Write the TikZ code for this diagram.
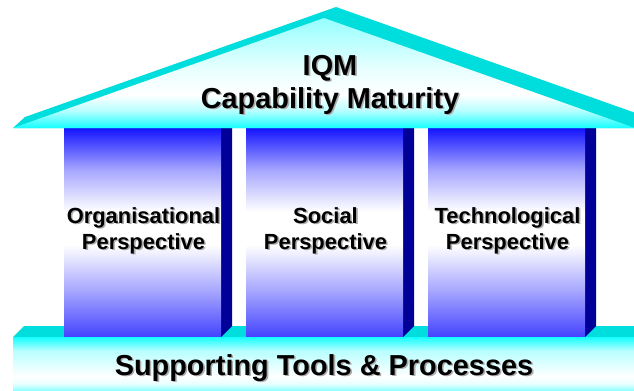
\documentclass[tikz,border=0pt]{standalone}
\usepackage{fontspec}
\setmainfont{Liberation Sans}

\definecolor{roofedge}{RGB}{0,221,221}
\definecolor{brightcyan}{RGB}{20,255,255}
\definecolor{pillarblue}{RGB}{20,20,255}
\definecolor{pillarside}{RGB}{0,0,153}
\colorlet{pillarlow}{pillarblue!80!white}
\colorlet{pillarlight}{pillarblue!38!white}
\colorlet{cyanmid}{brightcyan!45!white}
\colorlet{cyanlight}{brightcyan!30!white}
\colorlet{cyanpale}{brightcyan!10!white}

% vertical shadings (visible part runs from 25bp to 75bp)
\pgfdeclareverticalshading{pillarshade}{100bp}{color(0bp)=(pillarlow); color(25bp)=(pillarlow);
  color(36bp)=(pillarlight); color(47bp)=(white); color(55bp)=(white);
  color(65bp)=(pillarlight); color(75bp)=(pillarblue); color(100bp)=(pillarblue)}
\pgfdeclareverticalshading{roofshade}{100bp}{color(0bp)=(brightcyan); color(25bp)=(brightcyan);
  color(33bp)=(cyanlight); color(40bp)=(white); color(52bp)=(cyanpale);
  color(75bp)=(cyanmid); color(100bp)=(cyanmid)}
\pgfdeclareverticalshading{baseshade}{100bp}{color(0bp)=(cyanmid); color(25bp)=(cyanmid);
  color(31bp)=(cyanpale); color(38bp)=(white); color(62bp)=(cyanlight);
  color(75bp)=(brightcyan); color(100bp)=(brightcyan)}

% text with a grey drop shadow
\newcommand\shtext[1]{\rlap{\kern1.6pt\raisebox{-1.6pt}{\color{gray!65}#1}}#1}

\begin{document}
\begin{tikzpicture}[x=1bp,y=-1bp,
    bigtext/.style={inner sep=0pt,anchor=base,font=\fontsize{29}{33}\selectfont\bfseries},
    pillartext/.style={inner sep=0pt,anchor=base,font=\fontsize{22}{26}\selectfont\bfseries}]
    \useasboundingbox (0,0) rectangle (634,390);

    % base: top surface behind the pillars
    \fill[roofedge] (13,337) -- (24,326) -- (646,326) -- (634,337) -- cycle;

    % pillars
    \foreach \x/\name/\txt in {64/org/Organisational,246/soc/Social,428/tech/Technological} {
        \fill[pillarside] (\x+157,128) -- (\x+168,128) -- (\x+168,326) -- (\x+157,337) -- cycle;
        \shade[shading=pillarshade] (\x,128) rectangle (\x+157,337);
        \node[pillartext] (\name-a) at (\x+79.5,223) {\shtext{\txt}};
        \node[pillartext] (\name-b) at (\x+79.5,249) {\shtext{Perspective}};
    }

    % base: front face
    \shade[shading=baseshade] (13,337) rectangle (634,390);
    \node[bigtext] (base) at (324,375) {\shtext{Supporting Tools \& Processes}};

    % roof
    \coordinate (L) at (13,128);
    \coordinate (A) at (324,18);
    \coordinate (R) at (635,128);
    \fill[roofedge] (L) -- (25,117) -- (336,7) -- (647,117) -- (R) -- cycle;
    \shade[shading=roofshade] (L) -- (A) -- (R) -- cycle;
    \node[bigtext] (iqm) at (330,75) {\shtext{IQM}};
    \node[bigtext] (cmm) at (330,108) {\shtext{Capability Maturity}};
\end{tikzpicture}
\end{document}
